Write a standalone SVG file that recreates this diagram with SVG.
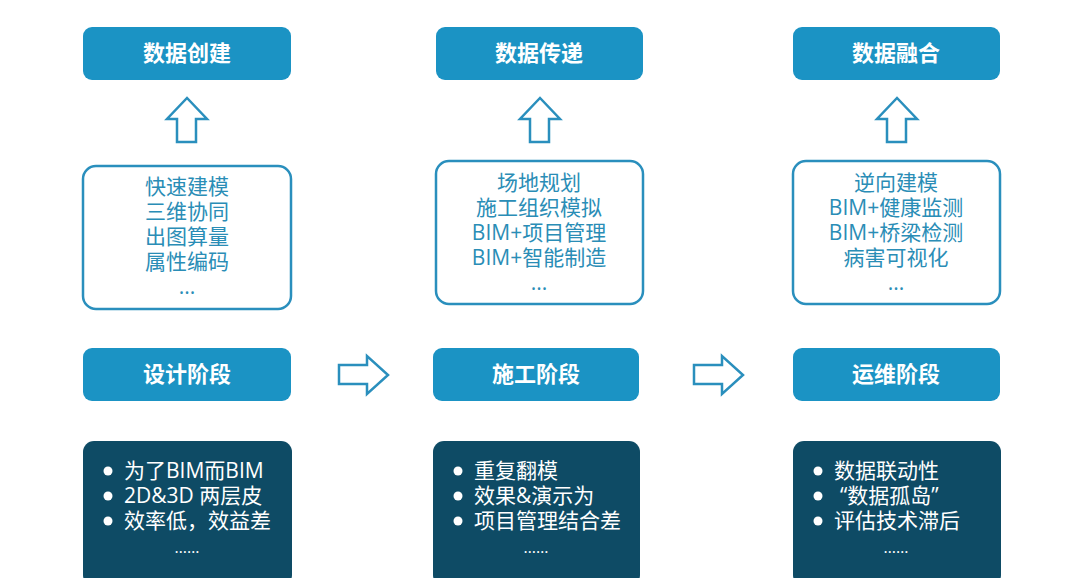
<svg xmlns="http://www.w3.org/2000/svg" width="1080" height="578" viewBox="0 0 1080 578">
<style>
.hdr{fill:#1b93c4}
.title{font-family:"Noto Sans CJK SC","Open Sans",sans-serif;font-weight:700;font-size:22px;fill:#fff;text-anchor:middle}
.ob{fill:#fff;stroke:#2a8fbd;stroke-width:2.5}
.ot{font-family:"Open Sans","Noto Sans CJK SC",sans-serif;font-size:21px;fill:#2a8db6;text-anchor:middle}
.db{fill:#0e4b65}
.dt{font-family:"Open Sans","Noto Sans CJK SC",sans-serif;font-size:21px;fill:#fff}
.dc{font-family:"Open Sans","Noto Sans CJK SC",sans-serif;font-size:16px;fill:#fff;text-anchor:middle}
.bul{fill:#fff}
.arr{fill:#fff;stroke:#2a8fbd;stroke-width:2.5;stroke-linejoin:miter}
</style>
<rect width="1080" height="578" fill="#fff"/>
<g id="connectors">
<path class="arr" d="M177,142 L177,119 L167,119 L187,98 L207,119 L196,119 L196,142 Z"/>
<path class="arr" d="M530,142 L530,119 L520,119 L540,98 L560,119 L549,119 L549,142 Z"/>
<path class="arr" d="M887,142 L887,119 L877,119 L897,98 L917,119 L906,119 L906,142 Z"/>
<path class="arr" d="M339,365 L367,365 L367,356 L388,375 L367,394 L367,384 L339,384 Z"/>
<path class="arr" d="M694,365 L722,365 L722,356 L743,375 L722,394 L722,384 L694,384 Z"/>
</g>
<g id="n-create">
<rect class="hdr" x="83" y="27" width="208" height="53" rx="9"/>
<text class="title" x="187" y="61">数据创建</text>
</g>
<g id="n-transfer">
<rect class="hdr" x="436" y="27" width="207" height="53" rx="9"/>
<text class="title" x="539" y="61">数据传递</text>
</g>
<g id="n-fusion">
<rect class="hdr" x="793" y="27" width="207" height="53" rx="9"/>
<text class="title" x="896" y="61">数据融合</text>
</g>
<g id="n-design-items">
<rect class="ob" x="83" y="166" width="208" height="143" rx="13"/>
<text class="ot"><tspan x="187" y="194">快速建模</tspan><tspan x="187" y="219">三维协同</tspan><tspan x="187" y="244">出图算量</tspan><tspan x="187" y="269">属性编码</tspan><tspan x="187" y="294">...</tspan></text>
</g>
<g id="n-build-items">
<rect class="ob" x="436" y="161" width="207" height="143" rx="13"/>
<text class="ot"><tspan x="539" y="190">场地规划</tspan><tspan x="539" y="215">施工组织模拟</tspan><tspan x="539" y="240">BIM+项目管理</tspan><tspan x="539" y="265">BIM+智能制造</tspan><tspan x="539" y="290">...</tspan></text>
</g>
<g id="n-om-items">
<rect class="ob" x="793" y="161" width="207" height="143" rx="13"/>
<text class="ot"><tspan x="896" y="190">逆向建模</tspan><tspan x="896" y="215">BIM+健康监测</tspan><tspan x="896" y="240">BIM+桥梁检测</tspan><tspan x="896" y="265">病害可视化</tspan><tspan x="896" y="290">...</tspan></text>
</g>
<g id="n-design">
<rect class="hdr" x="83" y="348" width="208" height="53" rx="9"/>
<text class="title" x="187" y="382">设计阶段</text>
</g>
<g id="n-build">
<rect class="hdr" x="433" y="348" width="206" height="53" rx="9"/>
<text class="title" x="536" y="382">施工阶段</text>
</g>
<g id="n-om">
<rect class="hdr" x="793" y="348" width="207" height="53" rx="9"/>
<text class="title" x="896" y="382">运维阶段</text>
</g>
<g id="n-design-issues">
<rect class="db" x="83" y="441" width="209" height="145" rx="11"/>
<circle class="bul" cx="108" cy="471" r="4.5"/>
<circle class="bul" cx="108" cy="496" r="4.5"/>
<circle class="bul" cx="108" cy="521" r="4.5"/>
<text class="dt"><tspan x="124" y="478">为了BIM而BIM</tspan><tspan x="124" y="503">2D&amp;3D 两层皮</tspan><tspan x="124" y="528">效率低，效益差</tspan></text>
<text class="dc" x="187" y="553">……</text>
</g>
<g id="n-build-issues">
<rect class="db" x="433" y="441" width="207" height="145" rx="11"/>
<circle class="bul" cx="458" cy="471" r="4.5"/>
<circle class="bul" cx="458" cy="496" r="4.5"/>
<circle class="bul" cx="458" cy="521" r="4.5"/>
<text class="dt"><tspan x="474" y="478">重复翻模</tspan><tspan x="474" y="503">效果&amp;演示为</tspan><tspan x="474" y="528">项目管理结合差</tspan></text>
<text class="dc" x="536" y="553">……</text>
</g>
<g id="n-om-issues">
<rect class="db" x="793" y="441" width="208" height="145" rx="11"/>
<circle class="bul" cx="818" cy="471" r="4.5"/>
<circle class="bul" cx="818" cy="496" r="4.5"/>
<circle class="bul" cx="818" cy="521" r="4.5"/>
<text class="dt"><tspan x="834" y="478">数据联动性</tspan><tspan x="840" y="503">“数据孤岛”</tspan><tspan x="834" y="528">评估技术滞后</tspan></text>
<text class="dc" x="896" y="553">……</text>
</g>
</svg>
